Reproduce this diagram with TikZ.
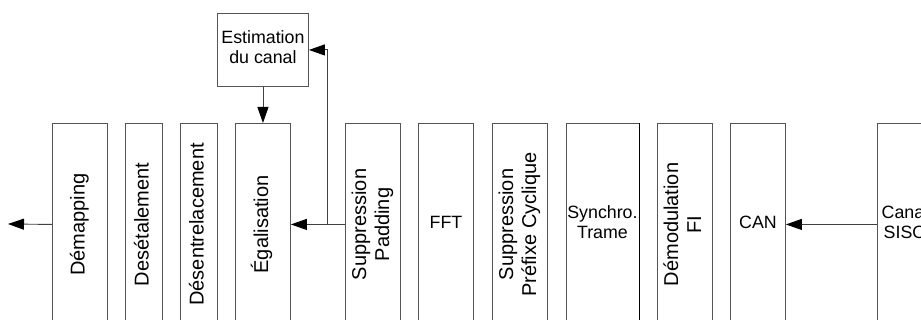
\documentclass[tikz,border=0pt]{standalone}
\usepackage{fontspec}
\setmainfont{Liberation Sans}
\usetikzlibrary{arrows.meta}
\newcommand{\vlab}[1]{\rotatebox{90}{\begin{tabular}{@{}c@{}}#1\end{tabular}}}
\newcommand{\hlab}[1]{\makebox[0pt]{\begin{tabular}{@{}c@{}}#1\end{tabular}}}
\definecolor{edge}{RGB}{85,85,85}
\tikzset{
  blk/.style={draw=edge, line width=0.9pt, rectangle, inner sep=0pt, anchor=north west,
    minimum height=202pt, font=\fontsize{20}{23}\selectfont},
  hblk/.style={draw=edge, line width=0.9pt, rectangle, inner sep=0pt, anchor=north west,
    font=\fontsize{17.8}{20}\selectfont},
  arr/.style={draw=black!75, line width=0.9pt, -{Triangle[length=16pt,width=11pt,color=black]}},
  ln/.style={draw=black!75, line width=0.9pt}
}
\begin{document}
\begin{tikzpicture}[x=1pt,y=1pt]
\useasboundingbox (0,0) rectangle (921,320);
\clip (0,0) rectangle (921,320);
% vertical blocks (top at y=197, height 202)
\node[blk, minimum width=55pt] (dem) at (52,197) {\vlab{Démapping}};
\node[blk, minimum width=37pt] (des) at (125,197) {\vlab{Desétalement}};
\node[blk, minimum width=37pt] (dse) at (180,197) {\vlab{Désentrelacement}};
\node[blk, minimum width=55pt] (ega) at (235,197) {\vlab{Égalisation}};
\node[blk, minimum width=55pt] (pad) at (345,197) {\vlab{Suppression\\Padding}};
\node[blk, minimum width=55pt, font=\fontsize{17.8}{20}\selectfont] (fft) at (418,197) {\hlab{FFT}};
\node[blk, minimum width=55pt] (spc) at (492,197) {\vlab{Suppression\\Préfixe Cyclique}};
\node[blk, minimum width=73pt, font=\fontsize{17.8}{20}\selectfont] (syn) at (565.5,197) {\hlab{Synchro.\\Trame}};
\node[blk, minimum width=55pt] (dfi) at (657,197) {\vlab{Démodulation\\FI}};
\node[blk, minimum width=55pt, font=\fontsize{17.8}{20}\selectfont] (can) at (730,197) {\hlab{CAN}};
\node[blk, minimum width=55pt, font=\fontsize{17.8}{20}\selectfont] (siso) at (877,197) {\hlab{Canal\\SISO}};
\draw[black, line width=0.9pt] (syn.north east) -- (syn.south east);
% estimation block
\node[hblk, minimum width=91pt, minimum height=73pt] (est) at (217,307) {\hlab{Estimation\\du canal}};
% connectors
\coordinate (out) at (8,96);
\coordinate (j) at (327,96);
\draw[arr] (dem.west) -- (out);
\draw[arr] (pad.west) -- (ega.east);
\draw[arr] (j) |- (est.east);
\draw[arr] (est.south) -- (est.south |- ega.north);
\draw[arr] (siso.west) -- (can.east);
\end{tikzpicture}
\end{document}
